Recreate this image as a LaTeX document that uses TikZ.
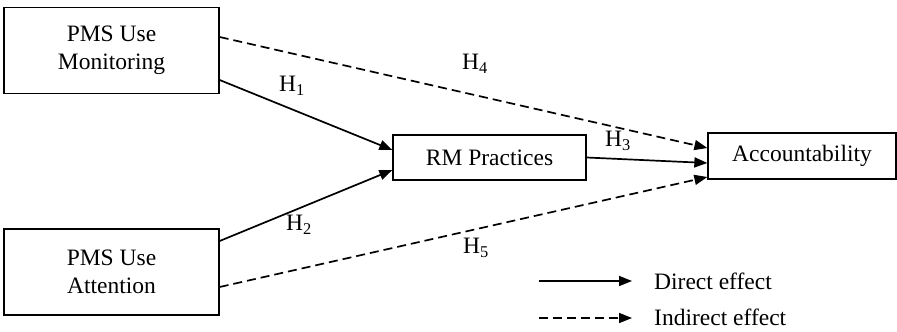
\documentclass[tikz,border=0pt]{standalone}
\usepackage{fontspec}
\setmainfont{Liberation Serif}
\usetikzlibrary{arrows.meta,positioning}
\begin{document}
\begin{tikzpicture}[x=1pt,y=-1pt,
  every node/.style={font=\fontsize{23.5}{28}\selectfont},
  box/.style={draw,line width=1.3pt,inner sep=0pt,align=center},
  lbl/.style={inner sep=0pt},
  direct/.style={line width=1.7pt,-{Triangle[length=13pt,width=10pt]}},
  indirect/.style={direct,dash pattern=on 9pt off 5pt}]
\useasboundingbox (0,0) rectangle (897,332);
\node[box,minimum width=215pt,minimum height=86pt] (m) at (111.5,50.5) {PMS Use\\Monitoring};
\node[box,minimum width=215pt,minimum height=86pt] (a) at (111.5,272) {PMS Use\\Attention};
\node[box,minimum width=193pt,minimum height=45pt] (rm) at (489.5,157.5) {RM Practices};
\node[box,minimum width=188pt,minimum height=46pt] (acc) at (802,156) {Accountability};
\draw[direct] ([yshift=-29.5pt]m.east) -- ([yshift=7.5pt]rm.west);
\draw[direct] ([yshift=31pt]a.east) -- ([yshift=-12.5pt]rm.west);
\draw[direct] (rm.east) -- ([yshift=-7pt]acc.west);
\draw[indirect] ([yshift=13.5pt]m.east) -- ([yshift=8pt]acc.west);
\draw[indirect] ([yshift=-15pt]a.east) -- ([yshift=-21pt]acc.west);
\node[lbl] (h1) at (292,86) {H\textsubscript{1}};
\node[lbl] (h2) at (299,225) {H\textsubscript{2}};
\node[lbl] (h3) at (618,141) {H\textsubscript{3}};
\node[lbl] (h4) at (475,64) {H\textsubscript{4}};
\node[lbl] (h5) at (476,248) {H\textsubscript{5}};
\coordinate (d1) at (539,281);
\coordinate (d2) at (632,281);
\coordinate (i1) at (539,318);
\coordinate (i2) at (632,318);
\draw[direct] (d1) -- (d2);
\draw[indirect] (i1) -- (i2);
\node[lbl,anchor=base west] (dtxt) at (654,289) {Direct effect};
\node[lbl,anchor=base west] (itxt) at (654,325) {Indirect effect};
\end{tikzpicture}
\end{document}
